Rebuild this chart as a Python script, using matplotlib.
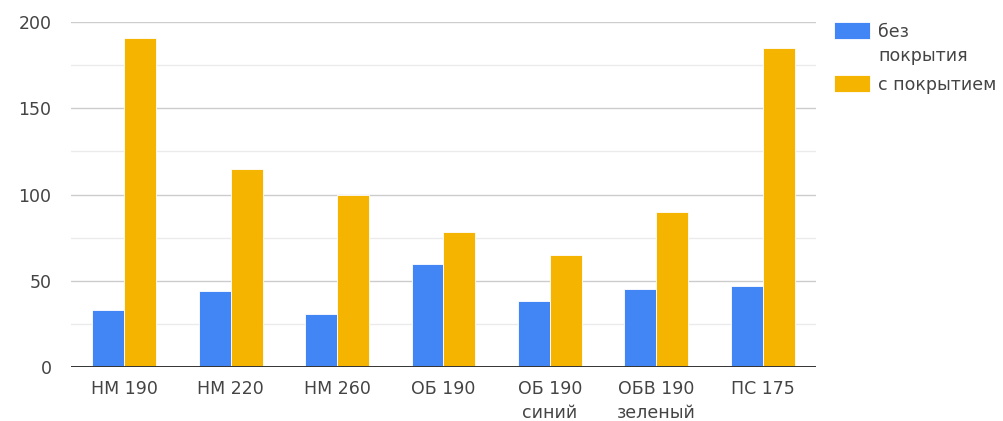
import numpy as np
import matplotlib
matplotlib.use("Agg")
from matplotlib import pyplot as plt
from matplotlib.patches import Rectangle

# данные по образцам
categories = ["НМ 190", "НМ 220", "НМ 260", "ОБ 190", "ОБ 190\nсиний", "ОБВ 190\nзеленый", "ПС 175"]
bez_pokrytiya = [33, 44, 31, 60, 38, 45, 47]
s_pokrytiem = [191, 115, 100, 78, 65, 90, 185]
series_names = ["без\nпокрытия", "с покрытием"]
y_ticks = [0, 50, 100, 150, 200]

BLUE = "#4285f4"
ORANGE = "#f4b400"
TEXT = "#444444"

plt.rcParams["font.family"] = ["DejaVu Sans"]

W, H = 1004, 421
fig = plt.figure(figsize=(W / 100, H / 100), dpi=100)
ax = fig.add_axes([71 / W, 1 - 367 / H, (816 - 71) / W, (367 - 22) / H])

x = np.arange(len(categories))
w = 0.3
ax.bar(x - w / 2, bez_pokrytiya, w, color=BLUE, edgecolor="white", linewidth=0.6, zorder=3)
ax.bar(x + w / 2, s_pokrytiem, w, color=ORANGE, edgecolor="white", linewidth=0.6, zorder=3)

ax.set_xlim(-0.5, len(categories) - 0.5)
ax.set_ylim(0, 200)

# сетка: основные и промежуточные линии
for v in range(25, 201, 25):
    col = "#cccccc" if v % 50 == 0 else "#ebebeb"
    ax.axhline(v, color=col, linewidth=1, zorder=1)
ax.axhline(0, color="#333333", linewidth=1.4, zorder=4)

ax.set_yticks(y_ticks)
ax.set_yticklabels([str(t) for t in y_ticks])
ax.set_xticks(x)
ax.set_xticklabels(categories, linespacing=1.45)
ax.tick_params(axis="y", length=0, pad=14, labelsize=12.5, labelcolor=TEXT)
ax.tick_params(axis="x", length=0, pad=9, labelsize=12.5, labelcolor=TEXT)
for s in ax.spines.values():
    s.set_visible(False)

# легенда справа
def fx(px):
    return px / W

def fy(py):
    return 1 - py / H

fig.add_artist(Rectangle((fx(834), fy(39)), fx(36), 17 / H, transform=fig.transFigure,
                         facecolor=BLUE, edgecolor="white", linewidth=0.6))
fig.add_artist(Rectangle((fx(834), fy(92)), fx(36), 17 / H, transform=fig.transFigure,
                         facecolor=ORANGE, edgecolor="white", linewidth=0.6))
fig.text(fx(878), fy(37), "без", fontsize=12.5, color=TEXT, va="baseline")
fig.text(fx(878), fy(61), "покрытия", fontsize=12.5, color=TEXT, va="baseline")
fig.text(fx(878), fy(90), "с покрытием", fontsize=12.5, color=TEXT, va="baseline")

fig.savefig("out.png", dpi=100)
